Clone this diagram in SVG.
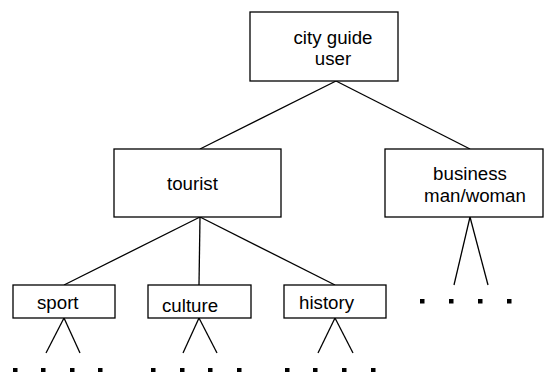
<svg xmlns="http://www.w3.org/2000/svg" width="545" height="372" viewBox="0 0 545 372">
<style>
.box{fill:#fff;stroke:#000;stroke-width:1.3}
.ln{stroke:#000;stroke-width:1.3;fill:none}
text{font-family:"Liberation Sans",Arial,sans-serif;font-size:18.7px;fill:#000}
.dot{fill:#000}
</style>
<rect width="545" height="372" fill="#fff"/>
<g id="connectors">
<line class="ln" x1="336" y1="81" x2="200" y2="149"/>
<line class="ln" x1="336" y1="81" x2="470" y2="149"/>
<line class="ln" x1="200" y1="217" x2="64" y2="285"/>
<line class="ln" x1="200" y1="217" x2="199" y2="285"/>
<line class="ln" x1="200" y1="217" x2="335" y2="285"/>
<line class="ln" x1="470" y1="217" x2="454" y2="285"/>
<line class="ln" x1="470" y1="217" x2="488" y2="285"/>
<line class="ln" x1="64" y1="318" x2="46" y2="353"/>
<line class="ln" x1="64" y1="318" x2="80" y2="353"/>
<line class="ln" x1="199" y1="318" x2="183" y2="353"/>
<line class="ln" x1="199" y1="318" x2="217" y2="353"/>
<line class="ln" x1="335" y1="318" x2="318" y2="353"/>
<line class="ln" x1="335" y1="318" x2="353" y2="353"/>
</g>
<g id="city-guide-user">
<rect class="box" x="250" y="12" width="148" height="69"/>
<text x="333" y="44" text-anchor="middle">city guide</text>
<text x="333" y="65" text-anchor="middle">user</text>
</g>
<g id="tourist">
<rect class="box" x="114" y="149" width="167" height="68"/>
<text x="167" y="190">tourist</text>
</g>
<g id="business">
<rect class="box" x="385" y="149" width="158" height="68"/>
<text x="470" y="180" text-anchor="middle">business</text>
<text x="475" y="202" text-anchor="middle">man/woman</text>
</g>
<g id="sport">
<rect class="box" x="13" y="285" width="102" height="33"/>
<text x="37" y="309">sport</text>
</g>
<g id="culture">
<rect class="box" x="148" y="285" width="103" height="33"/>
<text x="162" y="312">culture</text>
</g>
<g id="history">
<rect class="box" x="284" y="285" width="102" height="33"/>
<text x="299" y="309">history</text>
</g>
<g id="dots">
<rect class="dot" x="13" y="368" width="4.5" height="4.5"/>
<rect class="dot" x="41" y="368" width="4.5" height="4.5"/>
<rect class="dot" x="70" y="368" width="4.5" height="4.5"/>
<rect class="dot" x="98" y="368" width="4.5" height="4.5"/>
<rect class="dot" x="151" y="368" width="4.5" height="4.5"/>
<rect class="dot" x="180" y="368" width="4.5" height="4.5"/>
<rect class="dot" x="208" y="368" width="4.5" height="4.5"/>
<rect class="dot" x="237" y="368" width="4.5" height="4.5"/>
<rect class="dot" x="285" y="368" width="4.5" height="4.5"/>
<rect class="dot" x="313" y="368" width="4.5" height="4.5"/>
<rect class="dot" x="342" y="368" width="4.5" height="4.5"/>
<rect class="dot" x="371" y="368" width="4.5" height="4.5"/>
<rect class="dot" x="420" y="299" width="4.5" height="4.5"/>
<rect class="dot" x="449" y="299" width="4.5" height="4.5"/>
<rect class="dot" x="478" y="299" width="4.5" height="4.5"/>
<rect class="dot" x="507" y="299" width="4.5" height="4.5"/>
</g>
</svg>
